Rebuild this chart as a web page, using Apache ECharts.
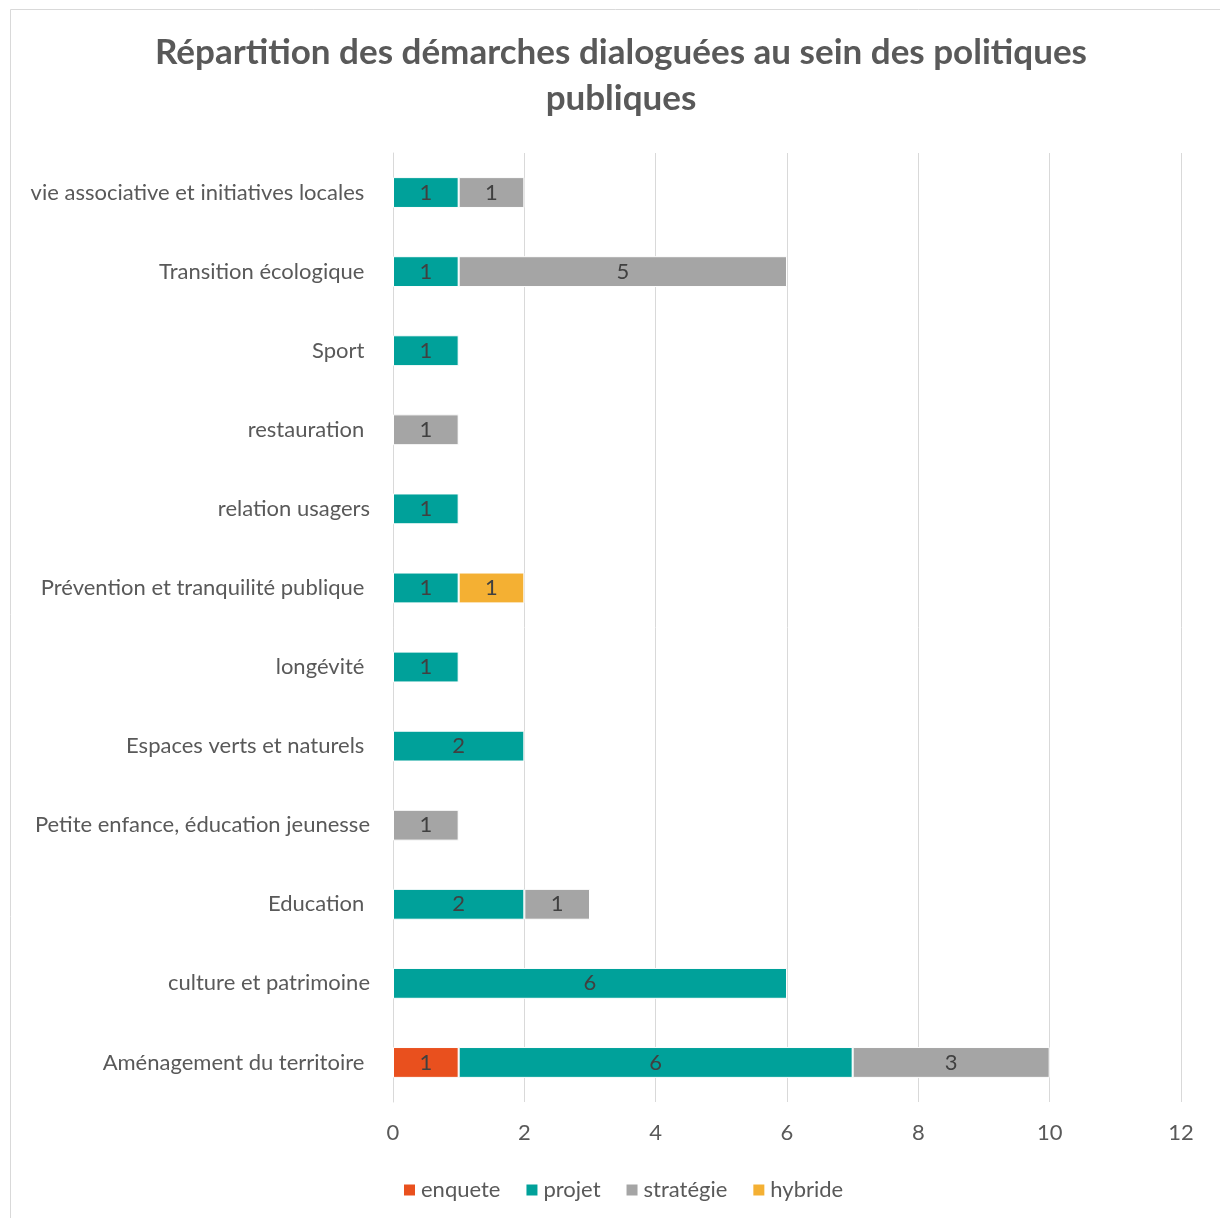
<!DOCTYPE html>
<html><head><meta charset="utf-8">
<script src="https://cdn.jsdelivr.net/npm/echarts@6/dist/echarts.min.js"></script>
<style>html,body{margin:0;padding:0;background:#fff}#c{width:1220px;height:1218px}</style>
</head><body><div id="c"></div>
<script>
const categories = ['Aménagement du territoire ','culture et patrimoine','Education ','Petite enfance, éducation jeunesse','Espaces verts et naturels ','longévité ','Prévention et tranquilité publique ','relation usagers','restauration ','Sport ','Transition écologique ','vie associative et initiatives locales '];
const enquete   = [1,null,null,null,null,null,null,null,null,null,null,null];
const projet    = [6,6,2,null,2,1,1,1,null,1,1,1];
const strategie = [3,null,1,1,null,null,null,null,1,null,5,1];
const hybride   = [null,null,null,null,null,null,1,null,null,null,null,null];
const xTicks = [0,2,4,6,8,10,12];

const font = 'Lato, "Open Sans", sans-serif';
const lbl = {show:true, position:'inside', color:'#404040', fontSize:22, fontFamily:font};
function s(name, data, color){
  return {name, type:'bar', stack:'t', data, barWidth:'39%', label:lbl,
    itemStyle:{color, borderColor:'#fff', borderWidth:1}};
}
const chart = echarts.init(document.getElementById('c'));
chart.setOption({
  animation:false,
  textStyle:{fontFamily:font},
  title:{text:'Répartition des démarches dialoguées au sein des politiques\npubliques', left:616, textAlign:'center', top:25,
    textStyle:{fontSize:35, fontWeight:'bold', color:'#595959', lineHeight:46, fontFamily:font}},
  graphic:[{type:'rect', shape:{x:10.5,y:9.5,width:1230,height:1230}, style:{fill:'none', stroke:'#d9d9d9', lineWidth:1}, silent:true}],
  grid:{left:393, right:39, top:153, bottom:116, containLabel:false},
  legend:{top:1174, left:397, itemWidth:13, itemHeight:13, itemGap:24, icon:'rect',
    textStyle:{fontSize:22, color:'#595959', fontFamily:font}},
  xAxis:{type:'value', min:0, max:12, interval:2,
    axisLine:{show:false}, axisTick:{show:false},
    splitLine:{lineStyle:{color:'#d9d9d9', width:1}},
    axisLabel:{fontSize:22, color:'#595959', margin:20, fontFamily:font,
      formatter:v=>xTicks.includes(v)?String(v):''}},
  yAxis:{type:'category', data:categories, axisTick:{show:false},
    axisLine:{show:true, lineStyle:{color:'#d9d9d9'}},
    axisLabel:{fontSize:22, color:'#595959', margin:23, fontFamily:font}},
  series:[s('enquete',enquete,'#E9501E'), s('projet',projet,'#00A19A'), s('stratégie',strategie,'#A5A5A5'), s('hybride',hybride,'#F4B033')]
});
</script></body></html>
